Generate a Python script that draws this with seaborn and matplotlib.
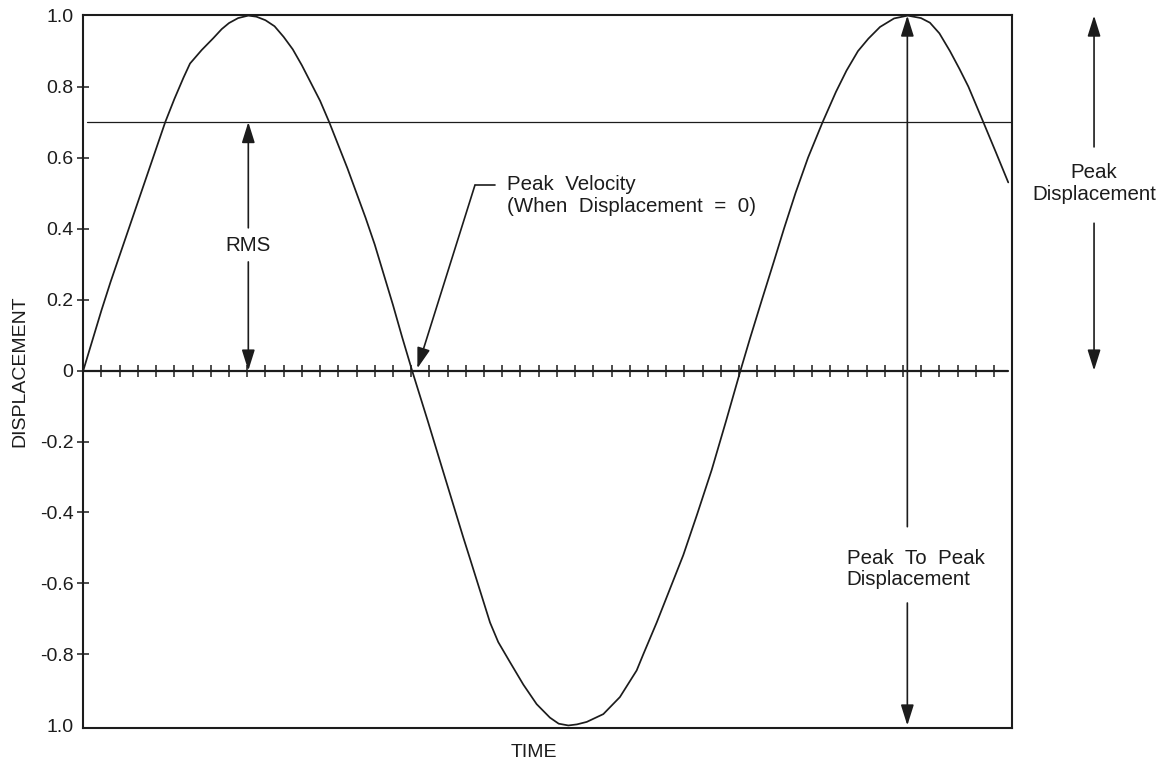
import numpy as np
import pandas as pd
import matplotlib
matplotlib.use("Agg")
import matplotlib.pyplot as plt
import seaborn as sns

# time is counted in the small divisions marked along the zero line
# first half wave (up to the first zero crossing)
time_a = [0.0, 0.5, 1.0, 1.5, 2.0, 2.5, 3.0, 3.5, 4.0, 4.5,
          5.0, 5.5, 5.86, 6.5, 7.13, 7.6, 8.0, 8.5, 9.06, 9.5,
          10.0, 10.5, 11.0, 11.5, 12.0, 12.5, 13.0, 13.5, 14.0, 14.5,
          15.0, 15.5, 16.0, 16.5, 17.0, 17.5, 18.05]
disp_a = [0.0, 0.085, 0.17, 0.25, 0.325, 0.40, 0.475, 0.55, 0.625, 0.70,
          0.765, 0.825, 0.865, 0.903, 0.936, 0.962, 0.979, 0.993, 1.0, 0.997,
          0.987, 0.97, 0.94, 0.905, 0.86, 0.81, 0.76, 0.70, 0.635, 0.57,
          0.50, 0.43, 0.355, 0.27, 0.185, 0.095, 0.0]
# trough
time_b = [18.9, 19.73, 20.86, 21.23, 21.78, 22.33, 22.78, 23.43, 24.16, 24.89,
          25.62, 26.1, 26.63, 27.1, 27.64, 28.55, 29.46, 30.38, 30.74, 31.48,
          32.21, 32.94, 33.7, 34.5, 35.3, 36.08]
disp_b = [-0.14, -0.28, -0.47, -0.53, -0.62, -0.71, -0.765, -0.822, -0.885, -0.94,
          -0.978, -0.995, -1.0, -0.997, -0.99, -0.968, -0.92, -0.845, -0.80, -0.71,
          -0.615, -0.52, -0.405, -0.28, -0.14, 0.0]
# second crest, cut off at the right edge
time_c = [36.6, 37.26, 37.9, 38.47, 39.1, 39.79, 40.59, 41.32, 41.9, 42.53,
          43.1, 43.74, 44.51, 45.26, 45.99, 46.48, 47.0, 47.58, 48.1, 48.59,
          49.41, 50.1, 50.78]
disp_c = [0.09, 0.20, 0.305, 0.40, 0.50, 0.60, 0.70, 0.785, 0.845, 0.90,
          0.935, 0.968, 0.992, 1.0, 0.993, 0.98, 0.95, 0.90, 0.85, 0.80,
          0.70, 0.615, 0.53]

ytick_vals = [1.0, 0.8, 0.6, 0.4, 0.2, 0.0, -0.2, -0.4, -0.6, -0.8, -1.0]
ytick_labels = ["1.0", "0.8", "0.6", "0.4", "0.2", "0", "-0.2", "-0.4", "-0.6", "-0.8", "1.0"]
division_marks = np.arange(1, 51)

rms_level = 0.70
peak_1 = 9.06
zero_cross = 18.34
peak_2 = 45.24
right_arrow_x = 55.49

ink = "#1c1c1c"

sns.set_theme(style="white")
plt.rcParams["font.family"] = ["Liberation Sans", "DejaVu Sans"]

fig = plt.figure(figsize=(11.73, 7.69), dpi=100)
ax = fig.add_axes([0.0710, 0.0527, 0.7915, 0.9284])

df = pd.DataFrame({"time": time_a + time_b + time_c,
                   "disp": disp_a + disp_b + disp_c})
sns.lineplot(data=df, x="time", y="disp", sort=False, estimator=None,
             color=ink, lw=1.25, ax=ax, solid_joinstyle="round")

# zero line with its division marks
ax.plot([0, 50.77], [0, 0], color=ink, lw=1.6)
ax.plot(division_marks, np.zeros(len(division_marks)), ls="none", marker="|",
        ms=8, mew=1.1, color=ink)

# RMS level
ax.plot([0.19, 51], [rms_level, rms_level], color=ink, lw=0.9)

ann_font = 14.8
head = "-|>,head_length=0.7,head_width=0.22"


def arrow(x0, y0, x1, y1):
    ax.annotate("", xy=(x1, y1), xytext=(x0, y0), annotation_clip=False,
                arrowprops=dict(arrowstyle=head, mutation_scale=18, color=ink,
                                lw=1.2, shrinkA=0, shrinkB=0))


# RMS
arrow(peak_1, 0.402, peak_1, rms_level)
arrow(peak_1, 0.306, peak_1, 0.0)
ax.text(peak_1, 0.353, "RMS", ha="center", va="center", fontsize=ann_font, color=ink)

# peak velocity
ax.plot([22.60, 21.50], [0.522, 0.522], color=ink, lw=1.2)
arrow(21.50, 0.522, zero_cross, 0.006)
ax.text(23.24, 0.493, "Peak  Velocity\n(When  Displacement  =  0)", ha="left",
        va="center", fontsize=ann_font, color=ink, linespacing=1.15)

# peak to peak
arrow(peak_2, -0.44, peak_2, 1.0)
arrow(peak_2, -0.655, peak_2, -1.0)
ax.text(41.91, -0.559, "Peak  To  Peak\nDisplacement", ha="left", va="center",
        fontsize=ann_font, color=ink, linespacing=1.15)

# peak displacement, outside the frame
arrow(right_arrow_x, 0.63, right_arrow_x, 1.0)
arrow(right_arrow_x, 0.415, right_arrow_x, 0.0)
ax.text(right_arrow_x, 0.527, "Peak\nDisplacement", ha="center", va="center",
        fontsize=ann_font, color=ink, linespacing=1.15)

ax.set_xlim(0, 50.97)
ax.set_ylim(-1.0085, 1.003)
ax.set_xticks([])
ax.set_yticks(ytick_vals)
ax.set_yticklabels(ytick_labels)
ax.tick_params(axis="y", left=True, direction="inout", length=8, width=1.1,
               pad=3, labelsize=14, colors=ink)
yt = ax.yaxis.get_major_ticks()
yt[0].tick1line.set_visible(False)
yt[-1].tick1line.set_visible(False)

for s in ax.spines.values():
    s.set_visible(True)
    s.set_color(ink)
    s.set_linewidth(1.5)

ax.set_xlabel("TIME", fontsize=14, color=ink)
ax.xaxis.set_label_coords(0.4855, -0.0343)
ax.xaxis.label.set_va("center")
ax.set_ylabel("DISPLACEMENT", fontsize=14, color=ink)
ax.yaxis.set_label_coords(-0.0685, 0.5)
ax.yaxis.label.set_va("center")

fig.savefig("out.png", dpi=100)
